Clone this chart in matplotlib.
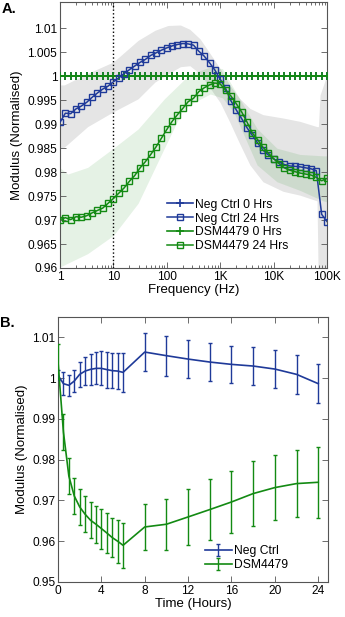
import numpy as np
import matplotlib
matplotlib.use("Agg")
import matplotlib.pyplot as plt
from matplotlib.ticker import FixedLocator, FixedFormatter, LogLocator, NullFormatter

plt.rcParams['font.family'] = ['Liberation Sans', 'DejaVu Sans']

# ---------------- Panel A data ----------------
freq = np.logspace(0, 5, 51)  # frequency grid (Hz)

ctrl_0hrs = [1.0] * 51
dsm_0hrs = [1.0] * 51

ctrl_24hrs = [
    0.9904, 0.9923, 0.9922, 0.9932, 0.9938, 0.99457, 0.9956, 0.99651, 0.99733, 0.99795,
    0.99884, 0.99967, 1.00056, 1.00138, 1.00215, 1.00291, 1.00353, 1.00436, 1.0049, 1.00545,
    1.00593, 1.00634, 1.00663, 1.00684, 1.00676, 1.00650, 1.00522, 1.00421, 1.00283, 1.0013,
    0.9994, 0.9975, 0.9949, 0.9930, 0.9912, 0.9893, 0.9877, 0.9861, 0.9846, 0.9836,
    0.9828, 0.9821, 0.9816, 0.9813, 0.9812, 0.9811, 0.9809, 0.9807, 0.9803, 0.9712,
    0.9697]

dsm_24hrs = [
    0.9701, 0.9705, 0.9701, 0.9707, 0.9706, 0.9709, 0.9715, 0.9720, 0.9725, 0.9735,
    0.9745, 0.9756, 0.9767, 0.9781, 0.9793, 0.9809, 0.9822, 0.9837, 0.9853, 0.9871,
    0.9889, 0.9906, 0.9920, 0.9933, 0.9947, 0.9954, 0.9968, 0.9976, 0.9982, 0.9986,
    0.9984, 0.9971, 0.9959, 0.9943, 0.9926, 0.9905, 0.9882, 0.9868, 0.9852, 0.9840,
    0.9828, 0.9818, 0.9809, 0.9804, 0.9801, 0.9798, 0.9796, 0.9794, 0.9789, 0.9782,
    0.9787]

# shaded spread bands
band_ctrl_f = [1, 1.2, 3.3, 10, 29, 60, 105, 180, 270, 420, 650, 1000, 1500, 2300,
               3600, 6300, 15000, 31000, 65000, 69000, 74000, 100000]
band_ctrl_hi = [0.9982, 0.9982, 1.0006, 1.0030, 1.0075, 1.0096, 1.0106, 1.0107, 1.0098,
                1.0078, 1.0047, 1.0016, 0.9982, 0.9954, 0.9933, 0.9920, 0.9913, 0.9906,
                0.9895, 0.9895, 0.9961, 1.0003]
band_ctrl_lo = [0.9850, 0.9852, 0.9895, 0.9926, 0.9953, 0.9988, 1.0005, 1.0020, 1.0022,
                1.0005, 0.9975, 0.9945, 0.9905, 0.9860, 0.9815, 0.9780, 0.9760, 0.9752,
                0.9740, 0.9550, 0.9550, 0.9550]

band_dsm_f = [1, 1.4, 3.3, 10, 29, 90, 190, 270, 650, 1100, 1800, 4900, 11500, 31000,
              85000, 100000]
band_dsm_hi = [0.9809, 0.9796, 0.9810, 0.9850, 0.9890, 0.9953, 0.9988, 1.0005, 1.0019,
               1.0016, 0.9974, 0.9891, 0.9850, 0.9837, 0.9834, 0.9834]
band_dsm_lo = [0.9602, 0.9610, 0.9630, 0.9668, 0.9735, 0.9850, 0.9925, 0.9941, 0.9963,
               0.9955, 0.9925, 0.9815, 0.9780, 0.9762, 0.9740, 0.9738]

a_xticks = [1, 10, 100, 1000, 10000, 100000]
a_xticklabels = ['1', '10', '100', '1K', '10K', '100K']
a_yticks = [0.96, 0.965, 0.97, 0.975, 0.98, 0.985, 0.99, 0.995, 1.0, 1.005, 1.01]
a_yticklabels = ['0.96', '0.965', '0.97', '0.975', '0.98', '0.985', '0.99', '0.995',
                 '1', '1.005', '1.01']

# ---------------- Panel B data ----------------
time_h = [0, 0.5, 1, 1.5, 2, 2.5, 3, 3.5, 4, 4.5, 5, 5.5, 6, 8, 10, 12, 14, 16, 18, 20, 22, 24]
ctrl_mean = [1.0007, 0.99865, 0.99824, 0.99929, 1.00093, 1.00174, 1.00216, 1.0024, 1.0024,
             1.0021, 1.00184, 1.00174, 1.00142, 1.0064, 1.00551, 1.00468, 1.00395, 1.00338,
             1.00297, 1.00223, 1.00093, 0.99865]
ctrl_err = [0.0012, 0.0028, 0.0025, 0.0027, 0.0031, 0.0035, 0.0038, 0.0039, 0.0042, 0.0044,
            0.0043, 0.0044, 0.0047, 0.0047, 0.0049, 0.0046, 0.0047, 0.0045, 0.0046, 0.0046,
            0.0048, 0.0048]
dsm_mean = [1.0040, 0.98679, 0.9760, 0.9711, 0.96841, 0.96662, 0.96515, 0.96417, 0.96311,
            0.96203, 0.9609, 0.9600, 0.9590, 0.9635, 0.96417, 0.96596, 0.96777, 0.96963,
            0.97169, 0.97316, 0.97414, 0.97446]
dsm_err = [0.0043, 0.0045, 0.0043, 0.0043, 0.0044, 0.0044, 0.0044, 0.0045, 0.0049, 0.0049,
           0.0048, 0.0053, 0.0055, 0.0057, 0.0063, 0.0069, 0.0075, 0.0076, 0.0080, 0.0080,
           0.0083, 0.0087]

b_xticks = [0, 4, 8, 12, 16, 20, 24]
b_yticks = [0.95, 0.96, 0.97, 0.98, 0.99, 1.0, 1.01]
b_yticklabels = ['0.95', '0.96', '0.97', '0.98', '0.99', '1', '1.01']

# ---------------- styling ----------------
BLUE = '#1f3a99'
GREEN = '#138a13'
SPINE = '#555555'
FS_TICK = 8.6
FS_LAB = 9.5
FS_LEG = 8.7

fig = plt.figure(figsize=(3.45, 6.17), dpi=100)
axA = fig.add_axes([60 / 345, (617 - 268) / 617, 267 / 345, 266 / 617])
axB = fig.add_axes([58 / 345, (617 - 582) / 617, 270 / 345, 265 / 617])

for ax in (axA, axB):
    for s in ax.spines.values():
        s.set_color(SPINE)
        s.set_linewidth(0.8)
    ax.tick_params(which='both', direction='in', top=True, right=True, colors=SPINE,
                   labelcolor='black', labelsize=FS_TICK, width=0.6)
    ax.tick_params(which='major', length=4, pad=2)
    ax.tick_params(which='minor', length=2)

# ---- Panel A ----
axA.fill_between(band_ctrl_f, band_ctrl_lo, band_ctrl_hi, color='black', alpha=0.1,
                 linewidth=0, zorder=1)
axA.fill_between(band_dsm_f, band_dsm_lo, band_dsm_hi, color='green', alpha=0.1,
                 linewidth=0, zorder=1)
axA.axvline(10, color='black', linestyle=':', linewidth=1.0, zorder=2)

axA.plot(freq, ctrl_0hrs, color=BLUE, marker='+', ms=6, mew=1.2, lw=1.2,
         label='Neg Ctrl 0 Hrs', zorder=3)
axA.plot(freq, ctrl_24hrs, color=BLUE, marker='s', ms=4.5, mfc='none', mew=1.0, lw=1.1,
         label='Neg Ctrl 24 Hrs', zorder=4)
axA.plot(freq, dsm_0hrs, color=GREEN, marker='+', ms=6, mew=1.2, lw=1.2,
         label='DSM4479 0 Hrs', zorder=3)
axA.plot(freq, dsm_24hrs, color=GREEN, marker='s', ms=4.5, mfc='none', mew=1.0, lw=1.1,
         label='DSM4479 24 Hrs', zorder=4)

axA.set_xscale('log')
axA.set_xlim(1, 1e5)
axA.set_ylim(0.96, 1.0155)
axA.xaxis.set_major_locator(FixedLocator(a_xticks))
axA.xaxis.set_major_formatter(FixedFormatter(a_xticklabels))
axA.xaxis.set_minor_locator(LogLocator(base=10, subs=np.arange(2, 10)))
axA.xaxis.set_minor_formatter(NullFormatter())
axA.yaxis.set_major_locator(FixedLocator(a_yticks))
axA.yaxis.set_major_formatter(FixedFormatter(a_yticklabels))
axA.set_xlabel('Frequency (Hz)', fontsize=FS_LAB, labelpad=1)
axA.set_ylabel('Modulus (Normalised)', fontsize=FS_LAB, labelpad=3)
axA.legend(loc='center left', bbox_to_anchor=(0.40, 0.16), frameon=False, fontsize=FS_LEG,
           handlelength=2.2, handletextpad=0.15, labelspacing=0.15, borderpad=0,
           borderaxespad=0)

# ---- Panel B ----
axB.errorbar(time_h, ctrl_mean, yerr=ctrl_err, color=BLUE, lw=1.2, elinewidth=1.0,
             capsize=1.6, capthick=1.0, label='Neg Ctrl', zorder=3)
axB.errorbar(time_h, dsm_mean, yerr=dsm_err, color=GREEN, lw=1.2, elinewidth=1.0,
             capsize=1.6, capthick=1.0, label='DSM4479', zorder=3)
axB.set_xlim(0, 24.9)
axB.set_ylim(0.95, 1.015)
axB.set_xticks(b_xticks)
axB.yaxis.set_major_locator(FixedLocator(b_yticks))
axB.yaxis.set_major_formatter(FixedFormatter(b_yticklabels))
axB.set_xlabel('Time (Hours)', fontsize=FS_LAB, labelpad=1)
axB.set_ylabel('Modulus (Normalised)', fontsize=FS_LAB, labelpad=3)
axB.legend(loc='center left', bbox_to_anchor=(0.545, 0.09), frameon=False, fontsize=FS_LEG,
           handlelength=2.2, handletextpad=0.15, labelspacing=0.15, borderpad=0,
           borderaxespad=0)

fig.text(2 / 345, 1 - 2 / 617, 'A.', fontsize=10.5, fontweight='bold', va='top', ha='left')
fig.text(0 / 345, 1 - 316 / 617, 'B.', fontsize=10.5, fontweight='bold', va='top', ha='left')

fig.savefig('out.png', dpi=100)
